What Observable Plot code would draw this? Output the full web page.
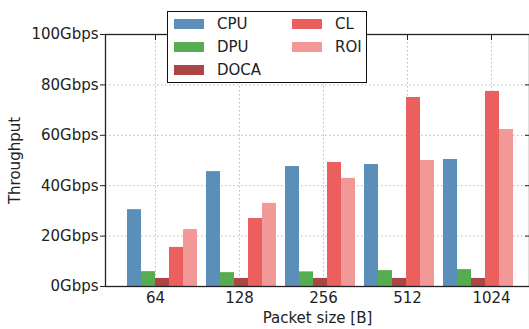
<!DOCTYPE html>
<html>
<head>
<meta charset="utf-8">
<script src="https://cdn.jsdelivr.net/npm/d3@7"></script>
<script src="https://cdn.jsdelivr.net/npm/@observablehq/plot@0.6"></script>
<style>
  html, body { margin: 0; padding: 0; background: #fff; }
  #wrap { position: relative; width: 529px; height: 329px; overflow: hidden; font-family: "DejaVu Sans", sans-serif; }
  .layer { position: absolute; left: 0; top: 0; }
  .layer svg { display: block; max-width: none; }
  #legend { position: absolute; left: 167px; top: 11px; width: 198px; height: 70px; border: 1.5px solid #111;
    background: #fff; box-sizing: content-box; font-size: 15px; color: #222; }
  .item { position: absolute; display: flex; align-items: center; height: 20px; }
  .sw { width: 30px; height: 10px; margin-right: 13px; }
</style>
</head>
<body>
<div id="wrap">
  <div id="gridLayer" class="layer"></div>
  <div id="barLayer" class="layer"></div>
  <div id="axisLayer" class="layer"></div>
  <div id="legend"></div>
</div>
<script>
const sizes = ["64", "128", "256", "512", "1024"];
const series = ["CPU", "DPU", "DOCA", "CL", "ROI"];
const colors = ["#5b8fba", "#56ad4f", "#ab4646", "#eb5f5f", "#f29897"];
const cpu  = [30.5, 45.6, 47.6, 48.4, 50.4];
const dpu  = [5.9, 5.5, 5.8, 6.3, 6.7];
const doca = [3.2, 3.2, 3.2, 3.2, 3.2];
const cl   = [15.5, 27.0, 49.2, 75.0, 77.4];
const roi  = [22.6, 33.0, 42.9, 50.0, 62.3];
const yTicks = [0, 20, 40, 60, 80, 100];

const values = [cpu, dpu, doca, cl, roi];
const data = sizes.flatMap((s, i) => series.map((k, j) => ({size: s, series: k, value: values[j][i]})));

// plot area extends just past the right edge of the window (as in the reference)
const dims = {width: 531, height: 329, marginLeft: 105, marginRight: 2, marginTop: 34, marginBottom: 43};
const band = {domain: sizes, paddingInner: 0.0915, paddingOuter: 0.2208, align: 0.571};
const font = {fontFamily: "DejaVu Sans, sans-serif", fontSize: "15px", color: "#222", background: "transparent", overflow: "visible"};
const gridStyle = {stroke: "#b8b8b8", strokeOpacity: 1, strokeDasharray: "1.5,2.5", strokeWidth: 1};

// Layer 1: dotted grid
const gridPlot = Plot.plot({
  ...dims, style: font,
  x: {...band, axis: null},
  y: {domain: [0, 100], axis: null},
  marks: [
    Plot.gridY(yTicks, gridStyle),
    Plot.gridX(gridStyle)
  ]
});

// Layer 2: grouped bars (faceted by packet size)
const barPlot = Plot.plot({
  ...dims, style: font,
  fx: {...band, axis: null},
  x: {domain: series, padding: 0, axis: null},
  y: {domain: [0, 100], axis: null},
  color: {domain: series, range: colors},
  marks: [
    Plot.barY(data, {fx: "size", x: "series", y: "value", fill: "series"})
  ]
});

// Layer 3: axes and frame
const axisPlot = Plot.plot({
  ...dims, style: font,
  x: {...band},
  y: {domain: [0, 100]},
  marks: [
    Plot.axisY(yTicks, {tickSize: 5, tickPadding: 2, tickFormat: d => d + "Gbps", stroke: "#222",
      label: "Throughput", labelArrow: "none", labelAnchor: "center", labelOffset: 96}),
    Plot.axisY(yTicks, {anchor: "right", tickSize: -5, tickFormat: () => "", label: null, stroke: "#222"}),
    Plot.axisX({anchor: "bottom", tickSize: 0, tickPadding: 6, label: "Packet size [B]", labelArrow: "none", labelAnchor: "center", labelOffset: 36}),
    Plot.axisX({anchor: "top", tickSize: -5, tickFormat: () => "", label: null, stroke: "#222"}),
    Plot.frame({stroke: "#222", strokeWidth: 1.3})
  ]
});

document.getElementById("gridLayer").appendChild(gridPlot);
document.getElementById("barLayer").appendChild(barPlot);
document.getElementById("axisLayer").appendChild(axisPlot);

const legend = document.getElementById("legend");
series.forEach((s, i) => {
  const col = i < 3 ? 0 : 1;
  const row = i < 3 ? i : i - 3;
  const el = document.createElement("div");
  el.className = "item";
  el.style.left = (col === 0 ? 6 : 124) + "px";
  el.style.top = (2 + row * 23) + "px";
  el.innerHTML = `<div class="sw" style="background:${colors[i]}"></div><span>${s}</span>`;
  legend.appendChild(el);
});
</script>
</body>
</html>
